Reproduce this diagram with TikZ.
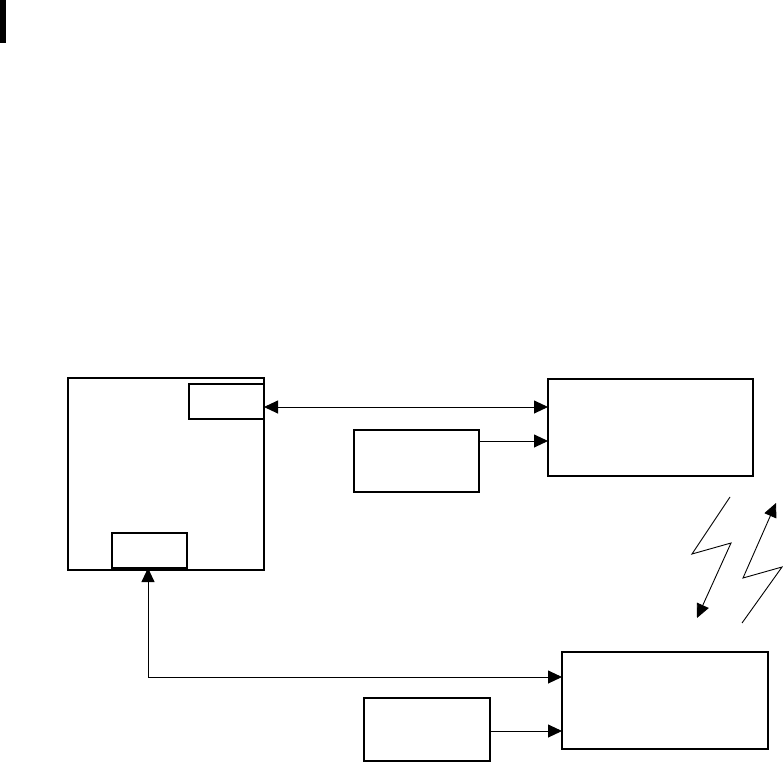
\documentclass[tikz,border=0pt]{standalone}
\usetikzlibrary{arrows.meta}
\begin{document}
\begin{tikzpicture}[x=1pt,y=-1pt,
  box/.style={draw,line width=1.8pt,inner sep=0pt,outer sep=0pt,anchor=north west},
  thinbox/.style={draw,line width=1.3pt,inner sep=0pt,outer sep=0pt,anchor=north west},
  conn/.style={line width=0.9pt,-{Triangle[length=14pt,width=13pt]}},
  bconn/.style={line width=0.9pt,{Triangle[length=14pt,width=13pt]}-{Triangle[length=14pt,width=13pt]}}]
\useasboundingbox (0,0) rectangle (783,762);
\fill (0,0) rectangle (6,43);
% left big box
\node[box,minimum width=196pt,minimum height=192pt] (L) at (68,378) {};
\node[thinbox,minimum width=75pt,minimum height=35pt] (Ltr) at (189,384) {};
\node[thinbox,minimum width=75pt,minimum height=35pt] (Lbot) at (112,533) {};
\draw[line width=3pt] (Lbot.south west) -- (Lbot.south east);
% right top
\node[box,minimum width=205pt,minimum height=97pt] (R1) at (548,379) {};
\node[box,minimum width=125pt,minimum height=62pt] (S1) at (354,430) {};
% right bottom
\node[box,minimum width=206pt,minimum height=97pt] (R2) at (562,652) {};
\node[box,minimum width=126pt,minimum height=63pt] (S2) at (364,698) {};
% connectors
\draw[bconn] (Ltr.east |- 0,407) -- (R1.west |- 0,407);
\draw[conn] (S1.east |- 0,441) -- (R1.west |- 0,441);
\coordinate (corner) at (148,677);
\draw[bconn] (Lbot.south -| corner) -- (corner) -- (R2.west |- corner);
\draw[conn] (S2.east |- 0,731) -- (R2.west |- 0,731);
% lightning bolts
\coordinate (a1) at (730,497);
\coordinate (a2) at (692,554);
\coordinate (a3) at (731,543);
\coordinate (a4) at (697,618);
\draw[conn,line join=miter] (a1) -- (a2) -- (a3) -- (a4);
\coordinate (b1) at (742,623);
\coordinate (b2) at (782,567);
\coordinate (b3) at (743,578);
\coordinate (b4) at (776,503);
\draw[conn,line join=miter] (b1) -- (b2) -- (b3) -- (b4);
\end{tikzpicture}
\end{document}
